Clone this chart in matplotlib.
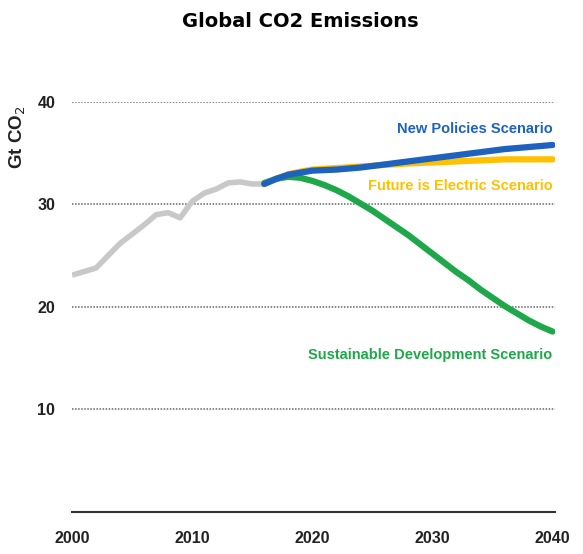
import matplotlib
matplotlib.use("Agg")
import matplotlib.pyplot as plt

plt.rcParams['font.family'] = ['Liberation Sans', 'DejaVu Sans']

# historical emissions (Gt CO2)
hist_years = [2000, 2002, 2003, 2004, 2005, 2006, 2007, 2008, 2009, 2010, 2011, 2012, 2013, 2014, 2015, 2016]
hist_vals = [23.1, 23.8, 25.0, 26.2, 27.1, 28.0, 29.0, 29.2, 28.7, 30.3, 31.1, 31.5, 32.1, 32.2, 32.0, 32.0]

# New Policies / Future is Electric
sc_years = [2016, 2017, 2018, 2019, 2020, 2022, 2024, 2026, 2028, 2030, 2032, 2034, 2036, 2038, 2040]
nps_vals = [32.0, 32.5, 32.9, 33.1, 33.3, 33.4, 33.6, 33.9, 34.2, 34.5, 34.8, 35.1, 35.4, 35.6, 35.8]
fes_vals = [32.0, 32.5, 32.95, 33.2, 33.4, 33.55, 33.7, 33.85, 34.0, 34.1, 34.2, 34.3, 34.4, 34.4, 34.4]

# Sustainable Development
sds_years = list(range(2016, 2041))
sds_vals = [32.1, 32.5, 32.7, 32.6, 32.3, 31.9, 31.4, 30.8, 30.1, 29.4, 28.6, 27.8, 27.0,
            26.1, 25.2, 24.3, 23.4, 22.6, 21.7, 20.9, 20.1, 19.4, 18.7, 18.1, 17.6]

yticks = [10, 20, 30, 40]
xticks = [2000, 2010, 2020, 2030, 2040]

fig = plt.figure(figsize=(5.83, 5.54), dpi=100)
ax = fig.add_axes([0.1235, 0.0758, 0.8285, 0.7402])

for y in yticks:
    ax.axhline(y, color='#666666', lw=1.1, ls=(0, (1, 1)), zorder=1)

ax.plot(hist_years, hist_vals, color='#c8c8c8', lw=4, solid_capstyle='butt', zorder=3)
ax.plot(sds_years, sds_vals, color='#1fa84a', lw=4.5, solid_capstyle='round', zorder=3)
ax.plot(sc_years, fes_vals, color='#ffc000', lw=4.5, solid_capstyle='round', zorder=4)
ax.plot(sc_years, nps_vals, color='#1e62bf', lw=4.5, solid_capstyle='round', zorder=5)

ax.text(2040, 37.4, 'New Policies Scenario', color='#1e62bf', fontsize=10.5,
        fontweight='bold', ha='right', va='center')
ax.text(2040, 31.8, 'Future is Electric Scenario', color='#ffc000', fontsize=10.5,
        fontweight='bold', ha='right', va='center')
ax.text(2040, 15.3, 'Sustainable Development Scenario', color='#1fa84a', fontsize=10.5,
        fontweight='bold', ha='right', va='center')

ax.set_xlim(2000, 2040.2)
ax.set_ylim(0, 40)
ax.set_yticks(yticks)
ax.set_xticks(xticks)
ax.tick_params(length=0, labelsize=11.5, colors='#222222')
ax.tick_params(axis='y', pad=12)
ax.tick_params(axis='x', pad=14)
for lab in ax.get_xticklabels() + ax.get_yticklabels():
    lab.set_fontweight('bold')

for s in ['top', 'right', 'left']:
    ax.spines[s].set_visible(False)
ax.spines['bottom'].set_color('#333333')
ax.spines['bottom'].set_linewidth(1.5)

fig.text(0.515, 0.962, 'Global CO2 Emissions', fontsize=14, fontweight='bold',
         ha='center', va='center', family=['DejaVu Sans'])
fig.text(0.03, 0.752, 'Gt CO$_2$', fontsize=13.5, fontweight='bold', rotation=90,
         ha='center', va='center', color='#222222')

fig.savefig('out.png', dpi=100)
